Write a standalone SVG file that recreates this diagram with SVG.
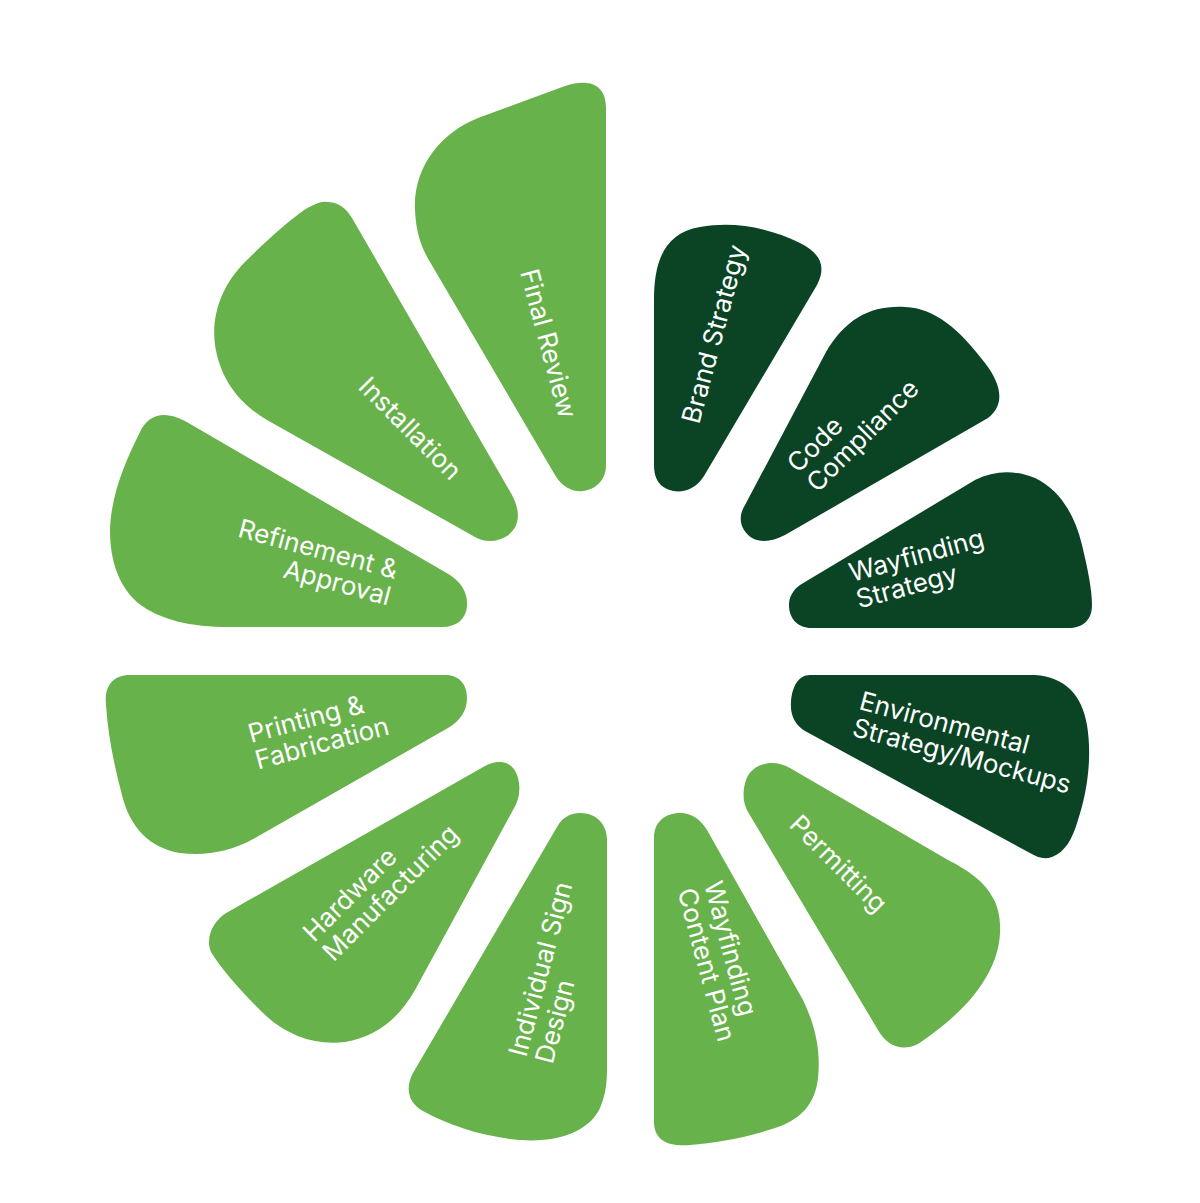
<svg xmlns="http://www.w3.org/2000/svg" width="1200" height="1203" viewBox="0 0 1200 1203">
<style>
.light{fill:#67b24b}
.dark{fill:#0a4425}
.lbl{fill:#ffffff;font-family:Inter,"Liberation Sans",sans-serif;font-size:26px;font-weight:400}
</style>
<rect x="0" y="0" width="1200" height="1203" fill="#ffffff"/>
<g id="final-review">
<path class="light" d="M 606 465 L 606 108 C 606 85 590 78 565 86 L 478 118 C 440 133 413 168 415 210 C 416 232 421 247 430 262 L 555 475 C 563 489 575 492 583 491 C 598 489 606 478 606 465 Z"/>
<text class="lbl" transform="translate(520,272) rotate(75)">Final Review</text>
</g>
<g id="brand-strategy">
<path class="dark" d="M 654 465 L 654 300 C 654 260 665 233 700 227 C 735 221 770 228 800 243 C 822 254 826 268 817 285 L 704 476 C 694 492 678 494 667 489 C 658 485 654 477 654 465 Z"/>
<text class="lbl" transform="translate(699,425) rotate(-75)">Brand Strategy</text>
</g>
<g id="code-compliance">
<path class="dark" d="M 745 505 L 826 352 C 846 318 872 305 905 307 C 935 308 960 330 985 363 C 1002 385 1005 405 988 418 L 785 535 C 768 544 752 543 744 530 C 739 522 740 513 745 505 Z"/>
<text class="lbl" transform="translate(798,474) rotate(-45)"><tspan x="0" y="0">Code</tspan><tspan x="0" y="27.5">Compliance</tspan></text>
</g>
<g id="wayfinding-strategy">
<path class="dark" d="M 800 585 L 975 480 C 995 470 1015 470 1035 478 C 1060 490 1075 515 1082 545 C 1088 570 1092 590 1092 605 C 1092 620 1083 628 1068 628 L 812 628 C 797 628 789 618 789 605 C 789 597 793 590 800 585 Z"/>
<text class="lbl" transform="translate(852,582) rotate(-15)"><tspan x="0" y="0">Wayfinding</tspan><tspan x="0" y="27.5">Strategy</tspan></text>
</g>
<g id="environmental-strategy">
<path class="dark" d="M 810 675 L 1035 675 C 1065 677 1082 695 1087 725 C 1092 755 1088 790 1078 820 C 1072 840 1065 852 1052 857 C 1044 860 1037 857 1030 853 L 805 731 C 795 725 790 715 791 702 C 792 686 799 675 810 675 Z"/>
<text class="lbl" transform="translate(858,709) rotate(15)"><tspan x="0" y="0">Environmental</tspan><tspan x="0" y="27.5">Strategy/Mockups</tspan></text>
</g>
<g id="permitting">
<path class="light" d="M 748 812 L 878 1030 C 887 1046 902 1052 918 1044 C 950 1022 975 1000 990 970 C 1003 945 1003 915 993 898 C 985 882 968 870 948 860 L 790 768 C 772 758 752 764 746 780 C 742 792 743 803 748 812 Z"/>
<text class="lbl" transform="translate(788,826) rotate(45)">Permitting</text>
</g>
<g id="wayfinding-content-plan">
<path class="light" d="M 654 838 C 654 822 665 813 680 813 C 692 813 701 820 707 830 L 803 1000 C 815 1025 821 1050 818 1078 C 815 1105 800 1120 775 1128 C 745 1138 715 1143 690 1145 C 668 1147 654 1140 654 1122 Z"/>
<text class="lbl" transform="translate(704,884) rotate(75)"><tspan x="0" y="0">Wayfinding</tspan><tspan x="0" y="27.5">Content Plan</tspan></text>
</g>
<g id="individual-sign-design">
<path class="light" d="M 607 840 C 607 824 596 813 580 813 C 570 813 562 818 557 827 L 413 1073 C 405 1088 408 1103 423 1111 C 450 1126 485 1137 520 1140 C 560 1143 590 1130 600 1108 C 605 1096 607 1085 607 1070 Z"/>
<text class="lbl" transform="translate(526,1058) rotate(-75)"><tspan x="0" y="0">Individual Sign</tspan><tspan x="0" y="27.5">Design</tspan></text>
</g>
<g id="hardware-manufacturing">
<path class="light" d="M 228 912 L 485 766 C 500 758 514 762 518 778 C 521 790 519 800 513 810 L 415 990 C 398 1020 375 1037 345 1042 C 315 1046 285 1035 262 1012 C 240 990 222 970 211 952 C 205 938 213 920 228 912 Z"/>
<text class="lbl" transform="translate(314,943) rotate(-45)"><tspan x="0" y="0">Hardware</tspan><tspan x="0" y="27.5">Manufacturing</tspan></text>
</g>
<g id="printing-fabrication">
<path class="light" d="M 130 675 L 445 675 C 460 675 467 685 467 698 C 467 711 460 721 448 728 L 255 838 C 230 852 205 856 180 853 C 150 848 130 828 122 795 C 114 765 108 735 106 705 C 104 686 113 675 130 675 Z"/>
<text class="lbl" transform="translate(251,743) rotate(-15)"><tspan x="0" y="0">Printing &amp;</tspan><tspan x="0" y="27.5">Fabrication</tspan></text>
</g>
<g id="refinement-approval">
<path class="light" d="M 140 432 C 148 414 165 410 185 421 L 450 575 C 462 583 468 594 467 606 C 466 619 457 627 442 627 L 230 627 C 190 627 160 620 138 603 C 118 585 110 560 110 530 C 111 495 125 462 140 432 Z"/>
<text class="lbl" text-anchor="end" transform="translate(395,579) rotate(15)"><tspan x="0" y="0">Refinement &amp;</tspan><tspan x="0" y="27.5">Approval</tspan></text>
</g>
<g id="installation">
<path class="light" d="M 300 213 C 312 205 320 201 327 202 C 338 202 346 208 352 218 L 512 495 C 521 512 520 527 507 536 C 496 543 484 542 475 537 L 267 420 C 238 403 220 378 215 345 C 211 315 222 285 245 262 C 262 245 280 228 300 213 Z"/>
<text class="lbl" transform="translate(357,388) rotate(45)">Installation</text>
</g>
</svg>
